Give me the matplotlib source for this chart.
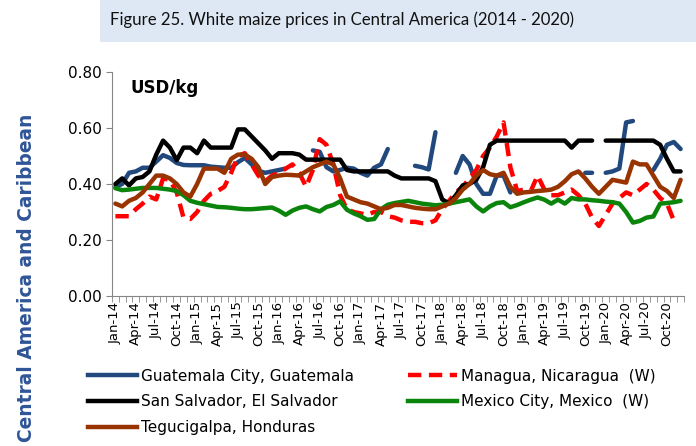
import numpy as np
import matplotlib
matplotlib.use("Agg")
import matplotlib.pyplot as plt
from matplotlib.lines import Line2D

nan = np.nan

# monthly series, Jan-14 .. Dec-20 (USD/kg)
years = ["14", "15", "16", "17", "18", "19", "20"]
month_names = ["Jan", "Feb", "Mar", "Apr", "May", "Jun",
               "Jul", "Aug", "Sep", "Oct", "Nov", "Dec"]
months = [f"{m}-{y}" for y in years for m in month_names]

guatemala = [0.39, 0.40, 0.44, 0.445, 0.458, 0.458, 0.48, 0.503, 0.493, 0.475,
             0.468, 0.467, 0.467, 0.467, 0.462, 0.46, 0.458, 0.458, 0.478, 0.493,
             0.47, 0.447, 0.44, 0.445, 0.45, 0.455, nan, nan, nan, 0.52,
             0.515, 0.46, 0.445, 0.45, 0.458, 0.455, 0.44, 0.43, 0.458, 0.47,
             0.525, nan, nan, nan, 0.465, 0.46, 0.452, 0.585, nan, nan,
             0.44, 0.50, 0.47, 0.40, 0.365, 0.365, 0.43, 0.43, 0.37, nan,
             nan, nan, nan, nan, nan, nan, nan, nan, nan, 0.44,
             0.44, nan, 0.44, 0.445, 0.455, 0.62, 0.625, nan, nan, 0.45,
             0.49, 0.54, 0.55, 0.525]

san_salvador = [0.40, 0.42, 0.395, 0.42, 0.425, 0.445, 0.505, 0.555, 0.53, 0.485,
                0.53, 0.53, 0.51, 0.555, 0.53, 0.53, 0.53, 0.53, 0.595, 0.595,
                0.57, 0.545, 0.52, 0.49, 0.51, 0.51, 0.51, 0.505, 0.487, 0.487,
                0.487, 0.487, 0.487, 0.487, 0.45, 0.445, 0.445, 0.445, 0.445, 0.445,
                0.445, 0.43, 0.42, 0.42, 0.42, 0.42, 0.42, 0.41, 0.345, 0.33,
                0.36, 0.395, 0.40, 0.415, 0.46, 0.54, 0.555, 0.555, 0.555, 0.555,
                0.555, 0.555, 0.555, 0.555, 0.555, 0.555, 0.555, 0.53, 0.555, 0.555,
                0.555, nan, 0.555, 0.555, 0.555, 0.555, 0.555, 0.555, 0.555, 0.555,
                0.54, 0.49, 0.445, 0.445]

tegucigalpa = [0.33, 0.32, 0.34, 0.35, 0.37, 0.40, 0.43, 0.43, 0.42, 0.40,
               0.37, 0.355, 0.40, 0.455, 0.455, 0.455, 0.44, 0.49, 0.505, 0.505,
               0.49, 0.46, 0.40, 0.425, 0.43, 0.433, 0.432, 0.43, 0.445, 0.46,
               0.47, 0.48, 0.47, 0.42, 0.355, 0.345, 0.335, 0.33, 0.32, 0.31,
               0.315, 0.325, 0.325, 0.32, 0.315, 0.312, 0.31, 0.31, 0.32, 0.33,
               0.35, 0.38, 0.40, 0.43, 0.45, 0.435, 0.43, 0.44, 0.39, 0.365,
               0.37, 0.372, 0.375, 0.377, 0.38, 0.39, 0.41, 0.435, 0.445, 0.42,
               0.39, 0.365, 0.39, 0.415, 0.41, 0.405, 0.48, 0.47, 0.47, 0.43,
               0.39, 0.375, 0.35, 0.415]

managua = [0.285, 0.285, 0.285, 0.31, 0.33, 0.355, 0.345, 0.42, 0.415, 0.37,
           0.28, 0.275, 0.30, 0.34, 0.365, 0.375, 0.39, 0.44, 0.50, 0.51,
           0.47, 0.43, 0.41, 0.43, 0.44, 0.455, 0.47, 0.44, 0.39, 0.45,
           0.56, 0.54, 0.47, 0.36, 0.31, 0.30, 0.295, 0.29, 0.30, 0.30,
           0.285, 0.28, 0.27, 0.265, 0.265, 0.26, 0.26, 0.27, 0.31, 0.34,
           0.37, 0.39, 0.42, 0.45, 0.50, 0.53, 0.57, 0.62, 0.46, 0.375,
           0.38, 0.375, 0.43, 0.38, 0.36, 0.36, 0.37, 0.38, 0.36, 0.33,
           0.28, 0.25, 0.29, 0.33, 0.35, 0.37, 0.36, 0.38, 0.40, 0.38,
           0.35, 0.33, 0.27, nan]

mexico = [0.385, 0.378, 0.38, 0.383, 0.386, 0.386, 0.386, 0.383, 0.38, 0.375,
          0.36, 0.34, 0.333, 0.328, 0.323, 0.318, 0.317, 0.315, 0.312, 0.31,
          0.31, 0.312, 0.314, 0.316, 0.305, 0.29, 0.305, 0.315, 0.32, 0.31,
          0.302, 0.318, 0.325, 0.338, 0.308, 0.295, 0.285, 0.272, 0.275, 0.31,
          0.326, 0.332, 0.336, 0.34, 0.335, 0.33, 0.327, 0.324, 0.326, 0.33,
          0.335, 0.34, 0.345, 0.32, 0.302, 0.32, 0.332, 0.335, 0.317, 0.325,
          0.335, 0.344, 0.352, 0.344, 0.33, 0.344, 0.33, 0.35, 0.345, 0.345,
          0.342, 0.34, 0.337, 0.335, 0.33, 0.30, 0.262, 0.268, 0.28, 0.284,
          0.33, 0.332, 0.335, 0.34]

x = np.arange(len(months))

fig = plt.figure(figsize=(6.96, 4.46), dpi=100)

# title banner
fig.patches.append(plt.Rectangle((100 / 696, 1 - 42 / 446), 596 / 696, 42 / 446,
                                 transform=fig.transFigure, facecolor="#dde8f4",
                                 edgecolor="none", zorder=0))
fig.text(110 / 696, 1 - 20 / 446,
         "Figure 25. White maize prices in Central America (2014 - 2020)",
         fontsize=12.1, family="Lato", va="center", ha="left", color="#111111")

# side label
fig.text(27 / 696, 1 - 278 / 446, "Central America and Caribbean", rotation=90,
         fontsize=13.4, fontweight="bold", color="#2f5597", ha="center", va="center")

ax = fig.add_axes([112 / 696, 150 / 446, 572 / 696, 224 / 446])

lw = 3.2
dash = (0, (3.0, 1.7))
ax.plot(x, guatemala, color="#22497d", lw=lw, solid_capstyle="round")
ax.plot(x, managua, color="#ff0000", lw=lw, linestyle=dash)
ax.plot(x, san_salvador, color="#000000", lw=lw, solid_capstyle="round")
ax.plot(x, mexico, color="#0b840b", lw=lw, solid_capstyle="round")
ax.plot(x, tegucigalpa, color="#993300", lw=lw, solid_capstyle="round")

ax.set_xlim(-0.5, len(months) - 0.5)
ax.set_ylim(0, 0.8)
ax.set_yticks([0, 0.2, 0.4, 0.6, 0.8])
ax.set_yticklabels([f"{v:.2f}" for v in [0, 0.2, 0.4, 0.6, 0.8]], fontsize=11)

ax.set_xticks(x[::3])
ax.set_xticklabels(months[::3], rotation=90, fontsize=9.5)
ax.tick_params(axis="x", length=0, pad=4)
ax.set_xticks(np.arange(len(months) + 1) - 0.5, minor=True)
ax.tick_params(axis="x", which="minor", length=4, color="#868686")
ax.tick_params(axis="y", length=4, color="#868686")

for s in ["top", "right"]:
    ax.spines[s].set_visible(False)
for s in ["left", "bottom"]:
    ax.spines[s].set_color("#868686")

ax.text(0.032, 0.93, "USD/kg", transform=ax.transAxes, fontsize=12,
        fontweight="bold", va="center")

handles = [
    Line2D([], [], color="#22497d", lw=lw),
    Line2D([], [], color="#000000", lw=lw),
    Line2D([], [], color="#993300", lw=lw),
    Line2D([], [], color="#ff0000", lw=lw, linestyle=dash),
    Line2D([], [], color="#0b840b", lw=lw),
]
labels = ["Guatemala City, Guatemala", "San Salvador, El Salvador",
          "Tegucigalpa, Honduras", "Managua, Nicaragua  (W)",
          "Mexico City, Mexico  (W)"]
fig.legend(handles, labels, ncol=2, loc="upper left",
           bbox_to_anchor=(74 / 696, 1 - 355 / 446), frameon=False,
           fontsize=11, handlelength=3.2, handletextpad=0.3,
           columnspacing=3.5, labelspacing=0.7)

fig.savefig("out.png", dpi=100)
